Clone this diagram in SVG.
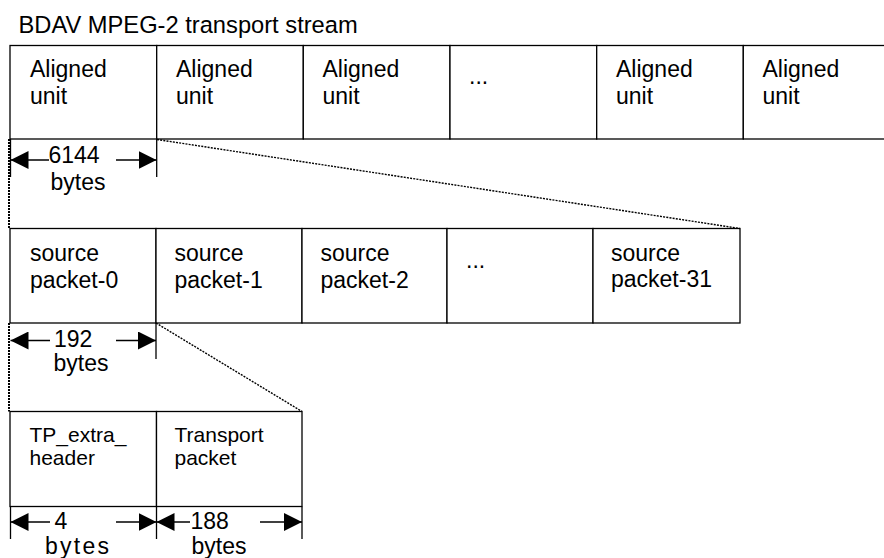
<svg xmlns="http://www.w3.org/2000/svg" width="884" height="558" viewBox="0 0 884 558">
  <style>
    .cell { fill: #ffffff; stroke: #000000; stroke-width: 1.3; }
    .lbl { font-family: "Liberation Sans", Arial, sans-serif; font-size: 23px; fill: #000000; }
    .small { font-size: 21px; }
    .title { font-size: 23.7px; }
    .dim { stroke: #000000; stroke-width: 1.4; fill: none; }
    .tick { stroke: #000000; stroke-width: 1.3; }
    .zoom { stroke: #000000; stroke-width: 1.4; stroke-dasharray: 2 1.2; fill: none; }
    .edge { stroke: #000000; stroke-width: 2; stroke-dasharray: 2 1; fill: none; }
  </style>
  <defs>
    <marker id="arrow" markerUnits="userSpaceOnUse" markerWidth="18" markerHeight="18" refX="18" refY="9" orient="auto">
      <path d="M0,0 L18,9 L0,18 z" fill="#000000"/>
    </marker>
  </defs>

  <rect x="0" y="0" width="884" height="558" fill="#ffffff"/>

  <text class="lbl title" x="18.5" y="32.5">BDAV MPEG-2 transport stream</text>

  <!-- Row 1: aligned units -->
  <g id="aligned-unit-1">
    <rect class="cell" x="10" y="45.5" width="146.7" height="93.5"/>
    <text class="lbl" x="30" y="77">Aligned</text>
    <text class="lbl" x="30" y="104">unit</text>
  </g>
  <g id="aligned-unit-2">
    <rect class="cell" x="156.7" y="45.5" width="146.6" height="93.5"/>
    <text class="lbl" x="176" y="77">Aligned</text>
    <text class="lbl" x="176" y="104">unit</text>
  </g>
  <g id="aligned-unit-3">
    <rect class="cell" x="303.3" y="45.5" width="146.7" height="93.5"/>
    <text class="lbl" x="322.5" y="77">Aligned</text>
    <text class="lbl" x="322.5" y="104">unit</text>
  </g>
  <g id="aligned-unit-ellipsis">
    <rect class="cell" x="450" y="45.5" width="146.7" height="93.5"/>
    <text class="lbl" x="469" y="84">...</text>
  </g>
  <g id="aligned-unit-n-1">
    <rect class="cell" x="596.7" y="45.5" width="146.6" height="93.5"/>
    <text class="lbl" x="616" y="77">Aligned</text>
    <text class="lbl" x="616" y="104">unit</text>
  </g>
  <g id="aligned-unit-n">
    <rect class="cell" x="743.3" y="45.5" width="146.7" height="93.5"/>
    <text class="lbl" x="762.5" y="77">Aligned</text>
    <text class="lbl" x="762.5" y="104">unit</text>
  </g>

  <!-- Row 2: source packets -->
  <g id="source-packet-0">
    <rect class="cell" x="10" y="228.5" width="146" height="94.5"/>
    <text class="lbl" x="30" y="261">source</text>
    <text class="lbl" x="30" y="288">packet-0</text>
  </g>
  <g id="source-packet-1">
    <rect class="cell" x="156" y="228.5" width="146" height="94.5"/>
    <text class="lbl" x="174.5" y="261">source</text>
    <text class="lbl" x="174.5" y="288">packet-1</text>
  </g>
  <g id="source-packet-2">
    <rect class="cell" x="302" y="228.5" width="145" height="94.5"/>
    <text class="lbl" x="320.5" y="261">source</text>
    <text class="lbl" x="320.5" y="288">packet-2</text>
  </g>
  <g id="source-packet-ellipsis">
    <rect class="cell" x="447" y="228.5" width="146" height="94.5"/>
    <text class="lbl" x="466" y="268">...</text>
  </g>
  <g id="source-packet-31">
    <rect class="cell" x="593" y="228.5" width="147" height="94.5"/>
    <text class="lbl" x="611" y="261">source</text>
    <text class="lbl" x="611" y="287">packet-31</text>
  </g>

  <!-- Row 3: source packet breakdown -->
  <g id="tp-extra-header">
    <rect class="cell" x="10" y="411.5" width="146.5" height="95"/>
    <text class="lbl small" x="29.5" y="442">TP_extra_</text>
    <text class="lbl small" x="29.5" y="465">header</text>
  </g>
  <g id="transport-packet">
    <rect class="cell" x="156.5" y="411.5" width="145.5" height="95"/>
    <text class="lbl small" x="174.5" y="442">Transport</text>
    <text class="lbl small" x="174.5" y="465">packet</text>
  </g>

  <!-- Expansion lines between rows -->
  <g id="connectors">
    <line class="zoom" x1="157" y1="139.5" x2="740" y2="228.5"/>
    <line class="edge" x1="9" y1="139" x2="9" y2="228.5"/>
    <line class="zoom" x1="156" y1="323" x2="302" y2="411.5"/>
    <line class="edge" x1="9" y1="323" x2="9" y2="411.5"/>
  </g>

  <!-- Size dimensions -->
  <g id="dimensions">
    <!-- 6144 bytes -->
    <line class="tick" x1="10.5" y1="139" x2="10.5" y2="177"/>
    <line class="tick" x1="156.7" y1="139" x2="156.7" y2="177"/>
    <line class="dim" x1="49" y1="160" x2="10.5" y2="160" marker-end="url(#arrow)"/>
    <line class="dim" x1="116" y1="160" x2="156.5" y2="160" marker-end="url(#arrow)"/>
    <text class="lbl" x="48.5" y="163">6144</text>
    <text class="lbl" x="50.5" y="190">bytes</text>

    <!-- 192 bytes -->
    <line class="tick" x1="156" y1="323" x2="156" y2="359"/>
    <line class="dim" x1="50" y1="340.5" x2="10.5" y2="340.5" marker-end="url(#arrow)"/>
    <line class="dim" x1="116" y1="340.5" x2="156" y2="340.5" marker-end="url(#arrow)"/>
    <text class="lbl" x="54" y="347">192</text>
    <text class="lbl" x="53.5" y="371">bytes</text>

    <!-- 4 bytes / 188 bytes -->
    <line class="tick" x1="10.5" y1="506.5" x2="10.5" y2="539"/>
    <line class="tick" x1="156.5" y1="506.5" x2="156.5" y2="539"/>
    <line class="tick" x1="302" y1="506.5" x2="302" y2="539"/>
    <line class="dim" x1="50" y1="522" x2="10.5" y2="522" marker-end="url(#arrow)"/>
    <line class="dim" x1="116" y1="522" x2="156.5" y2="522" marker-end="url(#arrow)"/>
    <line class="dim" x1="190" y1="522" x2="156.5" y2="522" marker-end="url(#arrow)"/>
    <line class="dim" x1="260" y1="522" x2="302" y2="522" marker-end="url(#arrow)"/>
    <text class="lbl" x="54.5" y="529">4</text>
    <text class="lbl" x="45" y="554" textLength="64" lengthAdjust="spacing">bytes</text>
    <text class="lbl" x="190.5" y="529">188</text>
    <text class="lbl" x="191.5" y="554">bytes</text>
  </g>
</svg>
